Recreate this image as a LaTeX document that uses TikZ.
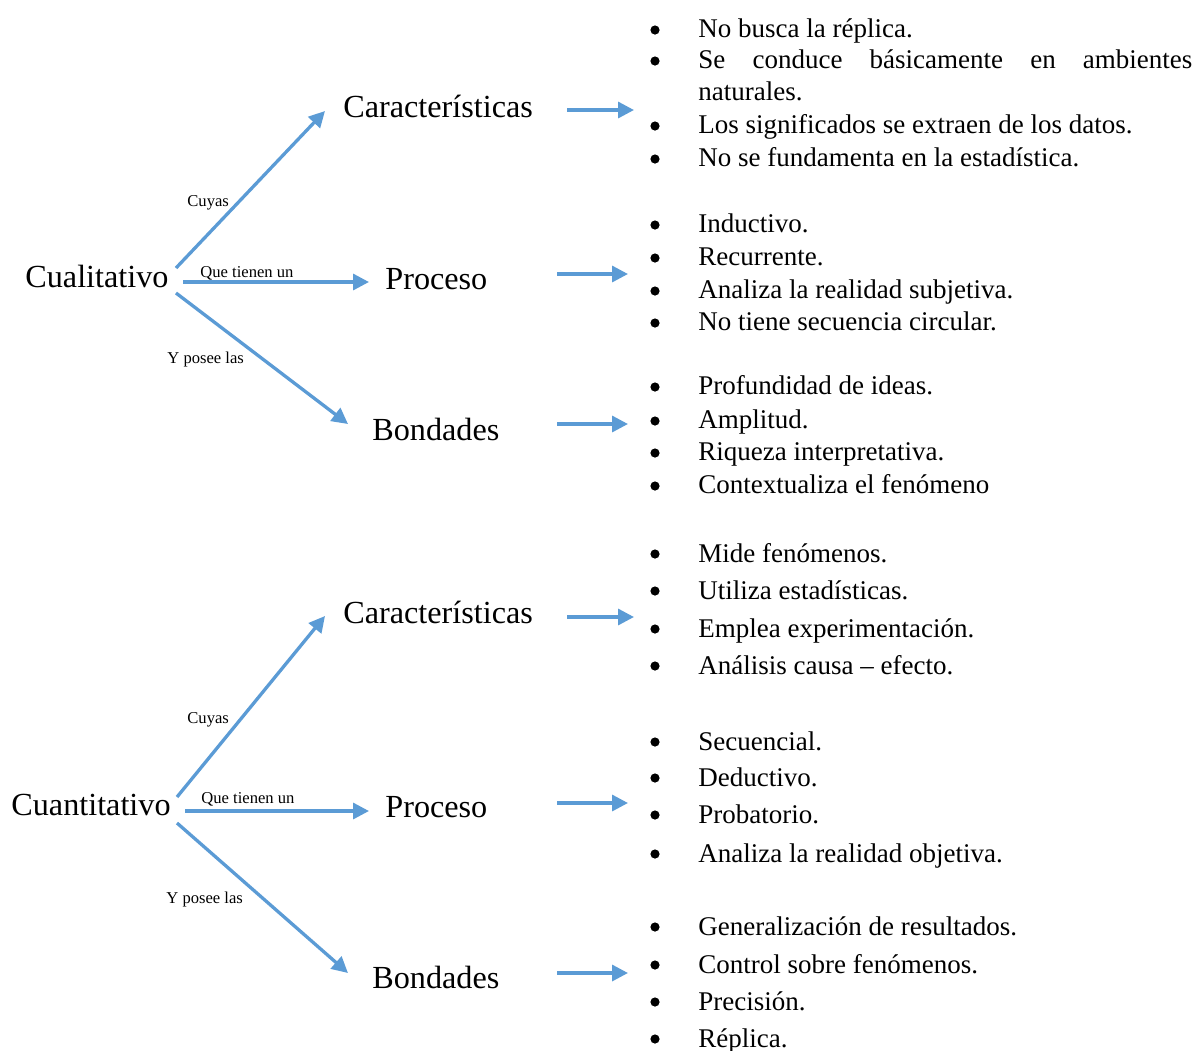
\documentclass[tikz,border=0pt]{standalone}
\usepackage{fontspec}
\setmainfont{Liberation Serif}
\usetikzlibrary{arrows.meta}
\definecolor{arrowblue}{HTML}{5B9BD5}
\tikzset{
  conn/.style={draw=arrowblue, line width=1.65pt, -{Triangle[length=8pt,width=8pt]}},
  mainlbl/.style={font=\fontsize{16.1}{19}\selectfont, inner sep=0pt, anchor=base west},
  smalllbl/.style={font=\fontsize{8.3}{10}\selectfont, inner sep=0pt, anchor=base west},
  itemtxt/.style={font=\fontsize{13.5}{16}\selectfont, inner sep=0pt, anchor=base west},
  bulletdot/.style={circle, fill=black, inner sep=0pt, minimum size=4.6pt},
}
\begin{document}
\begin{tikzpicture}[x=0.5pt,y=-0.5pt]
\useasboundingbox (0,0) rectangle (1196,1051);

% ===== Top: Cualitativo =====
\node[mainlbl] (cual) at (25,287) {Cualitativo};
\node[mainlbl] (car1) at (343,117) {Características};
\node[mainlbl] (pro1) at (385,289) {Proceso};
\node[mainlbl] (bon1) at (372,440) {Bondades};

\coordinate (c1s) at (176,268); \coordinate (c1e) at (325,111);
\coordinate (p1s) at (183,282); \coordinate (p1e) at (369,282);
\coordinate (b1s) at (176,293); \coordinate (b1e) at (348,424);
\draw[conn] (c1s) -- (c1e);
\draw[conn] (p1s) -- (p1e);
\draw[conn] (b1s) -- (b1e);

\node[smalllbl] (cuyas1) at (187,206) {Cuyas};
\node[smalllbl] (que1) at (200,277) {Que tienen un};
\node[smalllbl] (yposee1) at (167,363) {Y posee las};

\coordinate (lc1s) at (567,110); \coordinate (lc1e) at (634,110);
\coordinate (lp1s) at (557,274); \coordinate (lp1e) at (628,274);
\coordinate (lb1s) at (557,424); \coordinate (lb1e) at (628,424);
\draw[conn] (lc1s) -- (lc1e);
\draw[conn] (lp1s) -- (lp1e);
\draw[conn] (lb1s) -- (lb1e);

% list 1
\node[itemtxt] (l1a) at (698,37) {No busca la réplica.};
\node[itemtxt] (l1b) at (698,68) {\hbox to 247pt{Se\hfill conduce\hfill básicamente\hfill en\hfill ambientes}};
\node[itemtxt] (l1bb) at (698,100) {naturales.};
\node[itemtxt] (l1c) at (698,133) {Los significados se extraen de los datos.};
\node[itemtxt] (l1d) at (698,166) {No se fundamenta en la estadística.};
\foreach \y/\n in {37/a,68/b,133/c,166/d}
  \node[bulletdot] (d1\n) at (655,\y-7) {};

% list 2
\foreach \y/\n/\t in {232/a/Inductivo.,265/b/Recurrente.,298/c/Analiza la realidad subjetiva.,330/d/No tiene secuencia circular.}{
  \node[itemtxt] (l2\n) at (698,\y) {\t};
  \node[bulletdot] (d2\n) at (655,\y-7) {};
}

% list 3
\foreach \y/\n/\t in {394/a/Profundidad de ideas.,428/b/Amplitud.,460/c/Riqueza interpretativa.,493/d/Contextualiza el fenómeno}{
  \node[itemtxt] (l3\n) at (698,\y) {\t};
  \node[bulletdot] (d3\n) at (655,\y-7) {};
}

% ===== Bottom: Cuantitativo =====
\node[mainlbl] (cuan) at (11,815) {Cuantitativo};
\node[mainlbl] (car2) at (343,623) {Características};
\node[mainlbl] (pro2) at (385,817) {Proceso};
\node[mainlbl] (bon2) at (372,988) {Bondades};

\coordinate (c2s) at (177,797); \coordinate (c2e) at (325,616);
\coordinate (p2s) at (185,811); \coordinate (p2e) at (369,811);
\coordinate (b2s) at (177,823); \coordinate (b2e) at (348,973);
\draw[conn] (c2s) -- (c2e);
\draw[conn] (p2s) -- (p2e);
\draw[conn] (b2s) -- (b2e);

\node[smalllbl] (cuyas2) at (187,723) {Cuyas};
\node[smalllbl] (que2) at (201,803) {Que tienen un};
\node[smalllbl] (yposee2) at (166,903) {Y posee las};

\coordinate (lc2s) at (567,617); \coordinate (lc2e) at (634,617);
\coordinate (lp2s) at (557,803); \coordinate (lp2e) at (628,803);
\coordinate (lb2s) at (557,973); \coordinate (lb2e) at (628,973);
\draw[conn] (lc2s) -- (lc2e);
\draw[conn] (lp2s) -- (lp2e);
\draw[conn] (lb2s) -- (lb2e);

% list 4
\foreach \y/\n/\t in {562/a/Mide fenómenos.,599/b/Utiliza estadísticas.,637/c/Emplea experimentación.,674/d/Análisis causa – efecto.}{
  \node[itemtxt] (l4\n) at (698,\y) {\t};
  \node[bulletdot] (d4\n) at (655,\y-8) {};
}

% list 5
\foreach \y/\n/\t in {750/a/Secuencial.,786/b/Deductivo.,823/c/Probatorio.,862/d/Analiza la realidad objetiva.}{
  \node[itemtxt] (l5\n) at (698,\y) {\t};
  \node[bulletdot] (d5\n) at (655,\y-8) {};
}

% list 6
\foreach \y/\n/\t in {935/a/Generalización de resultados.,973/b/Control sobre fenómenos.,1010/c/Precisión.,1047/d/Réplica.}{
  \node[itemtxt] (l6\n) at (698,\y) {\t};
  \node[bulletdot] (d6\n) at (655,\y-8) {};
}
\end{tikzpicture}
\end{document}
